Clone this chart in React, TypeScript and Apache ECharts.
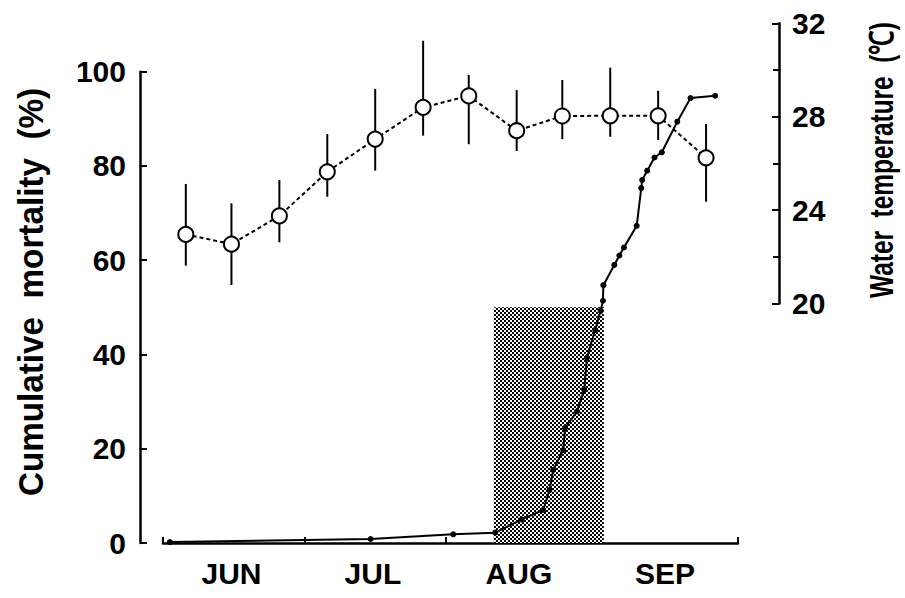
import React, { useEffect, useRef } from "react";
import * as echarts from "echarts";

// Days counted from June 1 (day 0)
const monthNames = ["JUN", "JUL", "AUG", "SEP"];
const monthLabelDays = [14, 45, 77, 109];
const monthTickDays = [-1, 30, 61, 92, 125];

// Water temperature (°C): mean with range
const tempDays = [4, 14, 24.5, 35, 45.5, 56, 66, 76.5, 86.5, 97, 107.5, 118];
const tempMean = [22.96, 22.54, 23.75, 25.64, 27.04, 28.4, 28.89, 27.4, 28.03, 28.04, 28.04, 26.24];
const tempLow = [21.62, 20.79, 22.62, 24.57, 25.69, 27.19, 26.82, 26.53, 27.04, 27.14, 27.0, 24.36];
const tempHigh = [25.12, 24.29, 25.29, 27.26, 29.19, 31.25, 29.79, 29.14, 29.57, 30.1, 29.11, 27.69];

// Cumulative mortality (%)
const mortDays = [0.5, 44.5, 62.6, 71.8, 77.6, 82.3, 83.7, 84.5, 86.7, 87.1, 89.7, 91.3, 91.9, 93.7, 94.9, 95.4, 95.5, 97.9, 99.0, 100.0, 102.8, 103.8, 104.0, 105.1, 106.7, 108.3, 111.7, 114.6, 120.0];
const mortValues = [0.2, 0.85, 1.85, 2.2, 5.0, 7.0, 11.2, 15.5, 19.7, 24.4, 27.9, 32.5, 39.3, 45.2, 49.3, 51.4, 54.7, 59.0, 61.0, 62.7, 67.3, 75.3, 77.0, 79.0, 81.8, 82.9, 89.4, 94.4, 94.9];

// Shaded period
const shadeStart = 71.5;
const shadeEnd = 95.6;
const shadeTop = 50;

const FONT = "'Liberation Sans Narrow','Liberation Sans',Arial,sans-serif";

export default function App() {
  const ref = useRef<HTMLDivElement>(null);
  useEffect(() => {
    if (!ref.current) return;
    const chart = echarts.init(ref.current, undefined, { renderer: "svg" });

    const c = document.createElement("canvas");
    c.width = 4;
    c.height = 4;
    const ctx = c.getContext("2d")!;
    ctx.fillStyle = "#ffffff";
    ctx.fillRect(0, 0, 4, 4);
    ctx.fillStyle = "#000000";
    ctx.fillRect(0, 0, 2, 2);
    ctx.fillRect(2, 2, 2, 2);

    const labelStyle = {
      color: "#000",
      fontFamily: FONT,
      fontWeight: "bold" as const,
      fontSize: 30,
    };

    const option: any = {
      animation: false,
      backgroundColor: "#fff",
      grid: [
        { left: 163, top: 71.7, width: 575, height: 471.3 },
        { left: 163, top: 23.3, width: 575, height: 280.2 },
      ],
      xAxis: [
        {
          type: "value",
          gridIndex: 0,
          min: -1,
          max: 125,
          splitLine: { show: false },
          axisLine: { show: true, onZero: false, lineStyle: { color: "#000", width: 2.5 } },
          axisTick: {
            show: true,
            inside: true,
            length: 6,
            customValues: monthTickDays,
            lineStyle: { color: "#000", width: 2 },
          },
          axisLabel: {
            ...labelStyle,
            margin: 15,
            customValues: monthLabelDays,
            formatter: (v: number) => {
              const i = monthLabelDays.indexOf(v);
              return i >= 0 ? monthNames[i] : "";
            },
          },
        },
        {
          type: "value",
          gridIndex: 1,
          min: -1,
          max: 125,
          show: false,
        },
      ],
      yAxis: [
        {
          type: "value",
          gridIndex: 0,
          min: 0,
          max: 100,
          interval: 20,
          offset: 23,
          splitLine: { show: false },
          axisLine: { show: true, onZero: false, lineStyle: { color: "#000", width: 2.5 } },
          axisTick: { show: true, inside: true, length: 7, lineStyle: { color: "#000", width: 2 } },
          axisLabel: { ...labelStyle, margin: 14 },
        },
        {
          type: "value",
          gridIndex: 1,
          position: "right",
          min: 20,
          max: 32,
          interval: 4,
          offset: 41,
          splitLine: { show: false },
          axisLine: { show: true, onZero: false, lineStyle: { color: "#000", width: 2.5 } },
          axisTick: { show: true, inside: true, length: 7, lineStyle: { color: "#000", width: 2 } },
          minorTick: { show: true, splitNumber: 2, length: 6, lineStyle: { color: "#000", width: 2 } },
          axisLabel: { ...labelStyle, margin: 13 },
        },
      ],
      graphic: [
        {
          type: "text",
          x: 31,
          y: 292,
          rotation: Math.PI / 2,
          scaleX: 0.95,
          style: {
            text: "Cumulative  mortality  (%)",
            fill: "#000",
            font: `bold 35px ${FONT}`,
            align: "center",
            verticalAlign: "middle",
          },
        },
        {
          type: "text",
          x: 882,
          y: 160,
          rotation: Math.PI / 2,
          scaleX: 0.74,
          style: {
            text: "Water  temperature  (℃)",
            fill: "#000",
            font: `bold 33px ${FONT}`,
            align: "center",
            verticalAlign: "middle",
          },
        },
      ],
      series: [
        {
          type: "line",
          name: "mortality",
          xAxisIndex: 0,
          yAxisIndex: 0,
          data: mortDays.map((d, i) => [d, mortValues[i]]),
          symbol: "circle",
          symbolSize: 6,
          itemStyle: { color: "#000" },
          lineStyle: { color: "#000", width: 2 },
          clip: false,
          z: 3,
          markArea: {
            silent: true,
            itemStyle: {
              color: { image: c, repeat: "repeat", imageWidth: 4, imageHeight: 4 },
              opacity: 1,
            },
            data: [[{ xAxis: shadeStart, yAxis: 0 }, { xAxis: shadeEnd, yAxis: shadeTop }]],
          },
        },
        {
          type: "custom",
          name: "range",
          xAxisIndex: 1,
          yAxisIndex: 1,
          data: tempDays.map((d, i) => [d, tempLow[i], tempHigh[i]]),
          clip: false,
          z: 4,
          renderItem: (params: any, api: any) => {
            const p1 = api.coord([api.value(0), api.value(1)]);
            const p2 = api.coord([api.value(0), api.value(2)]);
            return {
              type: "line",
              shape: { x1: p1[0], y1: p1[1], x2: p2[0], y2: p2[1] },
              style: { stroke: "#000", lineWidth: 2 },
            };
          },
        },
        {
          type: "line",
          name: "temperature",
          xAxisIndex: 1,
          yAxisIndex: 1,
          data: tempDays.map((d, i) => [d, tempMean[i]]),
          symbol: "circle",
          symbolSize: 15,
          itemStyle: { color: "#fff", borderColor: "#000", borderWidth: 2 },
          lineStyle: { color: "#000", width: 2, type: [4, 3] },
          clip: false,
          z: 5,
        },
      ],
    };
    chart.setOption(option);
    return () => chart.dispose();
  }, []);
  return (
    <div
      ref={ref}
      style={{ position: "fixed", left: 0, top: 0, width: 905, height: 598, background: "#fff" }}
    />
  );
}
